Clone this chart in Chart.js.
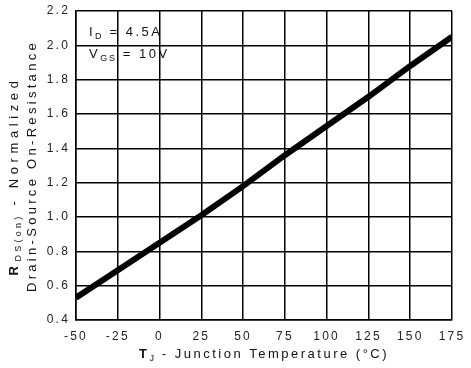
<!DOCTYPE html>
<html><head><meta charset="utf-8">
<script src="https://cdn.jsdelivr.net/npm/chart.js@4/dist/chart.umd.min.js"></script>
<style>html,body{margin:0;padding:0;background:#fff}#w{width:471px;height:368px}</style>
</head><body><div id="w"><canvas id="c" width="471" height="368"></canvas></div>
<script>
const temperatures = [-50, -25, 0, 25, 50, 75, 100, 125, 150, 175];
const rdsNormalized = [0.53, 0.69, 0.85, 1.01, 1.18, 1.36, 1.53, 1.70, 1.88, 2.05];
const xTicks = [-50, -25, 0, 25, 50, 75, 100, 125, 150, 175];
const yTicks = [0.4, 0.6, 0.8, 1.0, 1.2, 1.4, 1.6, 1.8, 2.0, 2.2];
const conditionLines = [
  [{t:'I'},{t:'D',sub:true},{t:' = 4.5A'}],
  [{t:'V'},{t:'GS',sub:true},{t:' = 10V'}]
];
const yTitleLines = [
  [{t:'R',bold:true},{t:'DS(on)',sub:true},{t:' - Normalized'}],
  [{t:'Drain-Source On-Resistance'}]
];
const xTitle = [{t:'T',bold:true},{t:'J',sub:true},{t:' - Junction Temperature (°C)'}];

const FF = '"Liberation Sans", Arial, sans-serif';
function segFont(s, size){ return (s.bold?'bold ':'') + (s.sub?Math.round(size*0.72):size) + 'px ' + FF; }
function measure(ctx, segs, size, sp){ let w=0; segs.forEach(s=>{ctx.font=segFont(s,size); ctx.letterSpacing=(s.sub?sp*0.7:sp)+'px'; w+=ctx.measureText(s.t).width;}); return w; }
function drawSegs(ctx, segs, x, y, size, sp){
  ctx.textBaseline='alphabetic'; ctx.textAlign='left';
  segs.forEach(s=>{ ctx.font=segFont(s,size); ctx.letterSpacing=(s.sub?sp*0.7:sp)+'px';
    ctx.fillText(s.t, x, y + (s.sub?3:0)); x += ctx.measureText(s.t).width; });
}
const spacingPlugin = {
  id:'spacingPlugin',
  beforeUpdate(chart){ chart.ctx.letterSpacing='2.2px'; },
  beforeDraw(chart){ chart.ctx.letterSpacing='2.2px'; }
};
const textPlugin = {
  id:'textPlugin',
  afterDraw(chart){
    const ctx = chart.ctx, a = chart.chartArea;
    ctx.save(); ctx.fillStyle='#111';
    drawSegs(ctx, conditionLines[0], 89, 36, 13, 2.5);
    drawSegs(ctx, conditionLines[1], 89, 58, 13, 2.5);
    const w = measure(ctx, xTitle, 13, 2.5);
    drawSegs(ctx, xTitle, (a.left+a.right)/2 - w/2, 358, 13, 2.5);
    const cfg = [[18, 176, 4.6], [36, 166, 3.3]];
    yTitleLines.forEach((segs,i)=>{
      ctx.save(); ctx.translate(cfg[i][0], cfg[i][1]); ctx.rotate(-Math.PI/2);
      const ww = measure(ctx, segs, 13, cfg[i][2]);
      drawSegs(ctx, segs, -ww/2, 0, 13, cfg[i][2]);
      ctx.restore();
    });
    ctx.restore();
  }
};

new Chart(document.getElementById('c'), {
  type:'line',
  data:{ datasets:[{ data: temperatures.map((t,i)=>({x:t,y:rdsNormalized[i]})), borderColor:'#000', borderWidth:6, pointRadius:0, tension:0, fill:false }]},
  options:{
    responsive:false, animation:false, devicePixelRatio:1,
    layout:{ padding:{ left:0, right:19, top:11, bottom:0 } },
    plugins:{ legend:{display:false}, tooltip:{enabled:false} },
    scales:{
      x:{ type:'linear', min:-50, max:175,
        afterBuildTicks(s){ s.ticks = xTicks.map(v=>({value:v})); },
        afterFit(s){ s.height = 48; s.paddingLeft = 0; s.paddingRight = 0; },
        grid:{ color:'#000', lineWidth:1.5, drawTicks:false },
        border:{ color:'#000', width:1.5 },
        ticks:{ color:'#222', font:{family:FF, size:12}, padding:9, maxRotation:0, autoSkip:false }
      },
      y:{ type:'linear', min:0.4, max:2.2,
        afterBuildTicks(s){ s.ticks = yTicks.map(v=>({value:v})); },
        afterFit(s){ s.width = 76; s.paddingTop = 0; s.paddingBottom = 0; },
        grid:{ color:'#000', lineWidth:1.5, drawTicks:false },
        border:{ color:'#000', width:1.5 },
        ticks:{ color:'#222', font:{family:FF, size:12}, padding:6, autoSkip:false, callback:v=>Number(v).toFixed(1) }
      }
    }
  },
  plugins:[spacingPlugin, textPlugin]
});
</script></body></html>
